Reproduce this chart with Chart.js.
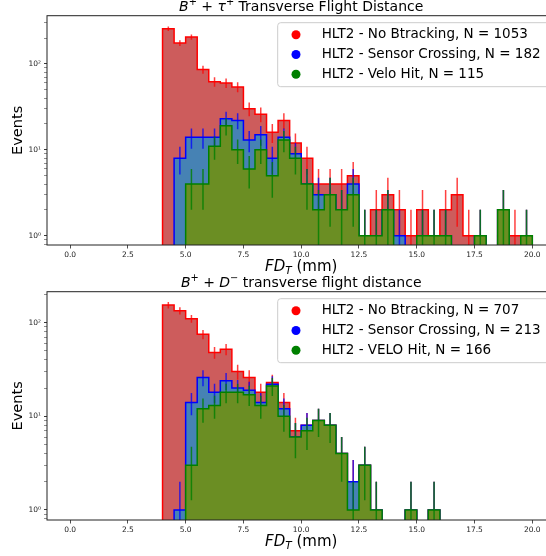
<!DOCTYPE html>
<html>
<head>
<meta charset="utf-8">
<script src="https://cdn.jsdelivr.net/npm/chart.js@4.4.0/dist/chart.umd.min.js"></script>
<style>
  html, body { margin: 0; padding: 0; background: #fff; overflow: hidden; }
  #wrap { position: relative; width: 546px; height: 556px; overflow: hidden; }
  canvas { position: absolute; left: 0; }
</style>
</head>
<body>
<div id="wrap">
  <canvas id="chartTau" width="560" height="278" style="top:0"></canvas>
  <canvas id="chartD" width="560" height="294" style="top:262px"></canvas>
</div>
<script>
// bin edges (mm), 0.5 mm bins
const binEdges = [4.0, 4.5, 5.0, 5.5, 6.0, 6.5, 7.0, 7.5, 8.0, 8.5, 9.0, 9.5, 10.0, 10.5, 11.0, 11.5,
                  12.0, 12.5, 13.0, 13.5, 14.0, 14.5, 15.0, 15.5, 16.0, 16.5, 17.0, 17.5, 18.0, 18.5, 19.0, 19.5, 20.0];
const xTicks = [0, 2.5, 5, 7.5, 10, 12.5, 15, 17.5, 20];

// B+ + tau+ counts per bin
const tauNoBtrack = [257, 175, 206, 86, 62, 60, 54, 30, 26, 16, 22, 12, 8, 4, 4, 4, 5, 1, 2, 3, 2, 1, 2, 1, 2, 3, 1, 1, 0, 2, 1, 1];
const tauSensor   = [0, 8, 14, 14, 14, 23, 22, 13, 15, 8, 14, 9, 4, 3, 3, 2, 4, 1, 1, 2, 1, 0, 1, 1, 1, 0, 0, 1, 0, 2, 0, 1];
const tauVelo     = [0, 0, 4, 4, 11, 19, 10, 6, 10, 5, 13, 8, 4, 2, 3, 2, 3, 1, 1, 2, 0, 0, 1, 1, 1, 0, 0, 1, 0, 2, 0, 1];
const tauLabels = ['HLT2 - No Btracking, N = 1053', 'HLT2 - Sensor Crossing, N = 182', 'HLT2 - Velo Hit, N = 115'];

// B+ + D- counts per bin
const dNoBtrack = [154, 134, 110, 75, 48, 52, 30, 26, 18, 23, 14, 7, 8, 9, 8, 4, 2, 3, 1, 0, 0, 1, 0, 1, 0, 0, 0, 0, 0, 0, 0, 0];
const dSensor   = [0, 1, 14, 26, 18, 24, 20, 19, 14, 22, 12, 6, 8, 9, 8, 4, 2, 3, 1, 0, 0, 1, 0, 1, 0, 0, 0, 0, 0, 0, 0, 0];
const dVelo     = [0, 0, 3, 12, 13, 18, 18, 17, 13, 21, 10, 6, 7, 9, 8, 4, 1, 3, 1, 0, 0, 1, 0, 1, 0, 0, 0, 0, 0, 0, 0, 0];
const dLabels = ['HLT2 - No Btracking, N = 707', 'HLT2 - Sensor Crossing, N = 213', 'HLT2 - VELO Hit, N = 166'];

const FLOOR = 0.01; // empty bins drop below the log axis
const FONT = '"DejaVu Sans", sans-serif';
const edgeColors = ['#ff0000', '#0000ff', '#008000'];
const fillColors = ['#cd5c5c', '#4682b4', '#6b8e23'];
const errColors = ['rgba(255,0,0,0.75)', 'rgba(0,0,255,0.75)', 'rgba(0,128,0,0.8)'];

function stepPoints(counts) {
    const pts = [{x: binEdges[0], y: FLOOR}];
    counts.forEach((c, i) => pts.push({x: binEdges[i], y: c > 0 ? c : FLOOR}));
    const last = counts[counts.length - 1];
    pts.push({x: binEdges[binEdges.length - 1], y: last > 0 ? last : FLOOR});
    pts.push({x: binEdges[binEdges.length - 1], y: FLOOR});
    return pts;
}

function errPoints(counts) {
    const pts = [];
    counts.forEach((c, i) => {
        if (c <= 0) return;
        const xc = (binEdges[i] + binEdges[i + 1]) / 2;
        const s = Math.sqrt(c);
        pts.push({x: xc, y: Math.max(c - s, FLOOR)}, {x: xc, y: c + s}, {x: xc, y: NaN});
    });
    return pts;
}

function drawRich(ctx, segs, cx, cy, size) {
    const parts = segs.map(s => {
        const fs = (s.sup || s.sub) ? size * 0.7 : size;
        const font = (s.it ? 'italic ' : '') + fs + 'px ' + FONT;
        ctx.font = font;
        return {t: s.t, font: font, w: ctx.measureText(s.t).width,
                dy: s.sup ? -size * 0.35 : (s.sub ? size * 0.28 : 0)};
    });
    let x = cx - parts.reduce((a, p) => a + p.w, 0) / 2;
    ctx.textAlign = 'left';
    ctx.textBaseline = 'middle';
    parts.forEach(p => { ctx.font = p.font; ctx.fillText(p.t, x, cy + p.dy); x += p.w; });
}

function makeChart(id, series, labels, title, yMin, yMax, top, bottom) {
    const datasets = [];
    series.forEach((counts, k) => {
        datasets.push({
            data: stepPoints(counts), stepped: 'before', fill: 'start',
            backgroundColor: fillColors[k], borderColor: edgeColors[k], borderWidth: 1.5,
            order: 10 - 2 * k, clip: 0
        });
        datasets.push({
            data: errPoints(counts), spanGaps: false, fill: false,
            borderColor: errColors[k], borderWidth: 1.5, order: 9 - 2 * k, clip: 0
        });
    });

    const canvas = document.getElementById(id);
    const H = canvas.height;

    const textPlugin = {
        id: 'texts',
        afterDatasetsDraw(chart) {
            const ctx = chart.ctx;
            const a = chart.chartArea;
            ctx.save();
            // frame
            ctx.strokeStyle = '#222';
            ctx.lineWidth = 1;
            ctx.strokeRect(a.left, a.top, a.right - a.left, a.bottom - a.top);

            // legend
            const bx = 277.7, by = a.top + 7, bh = 64, bw = 272;
            ctx.beginPath();
            ctx.roundRect(bx, by, bw, bh, 3);
            ctx.fillStyle = 'rgba(255,255,255,0.8)';
            ctx.fill();
            ctx.strokeStyle = '#cccccc';
            ctx.lineWidth = 1;
            ctx.stroke();
            labels.forEach((lab, k) => {
                const yy = by + 12 + k * 19.8;
                ctx.beginPath();
                ctx.arc(296, yy, 4.5, 0, Math.PI * 2);
                ctx.fillStyle = edgeColors[k];
                ctx.fill();
                ctx.fillStyle = '#000';
                ctx.font = '13.5px ' + FONT;
                ctx.textAlign = 'left';
                ctx.textBaseline = 'middle';
                ctx.fillText(lab, 321.7, yy);
            });

            // titles and axis labels
            ctx.fillStyle = '#000';
            const cx = (a.left + a.right) / 2;
            drawRich(ctx, title, cx, a.top - 8.7, 14);
            drawRich(ctx, [{t: 'FD', it: 1}, {t: 'T', it: 1, sub: 1}, {t: ' (mm)'}], cx, a.bottom + 22, 15);
            ctx.translate(18, (a.top + a.bottom) / 2);
            ctx.rotate(-Math.PI / 2);
            ctx.font = '14.5px ' + FONT;
            ctx.textAlign = 'center';
            ctx.textBaseline = 'middle';
            ctx.fillText('Events', 0, 0);
            ctx.restore();
        }
    };

    const isMajor = v => Math.abs(Math.log10(v) - Math.round(Math.log10(v))) < 1e-9;
    const sup = {'-1': '⁻¹', '0': '⁰', '1': '¹', '2': '²', '3': '³'};

    return new Chart(canvas, {
        type: 'line',
        data: {datasets: datasets},
        options: {
            responsive: false,
            animation: false,
            events: [],
            layout: {padding: {top: top, left: 0, right: canvas.width - 555.4, bottom: 0}},
            elements: {point: {radius: 0}, line: {tension: 0}},
            plugins: {legend: {display: false}, tooltip: {enabled: false}},
            scales: {
                x: {
                    type: 'linear', min: -1, max: 21,
                    afterFit(s) { s.height = H - bottom; },
                    afterBuildTicks(s) { s.ticks = xTicks.map(v => ({value: v})); },
                    ticks: {callback: v => v.toFixed(1), font: {family: FONT, size: 7.5}, color: '#222',
                            padding: 2, maxRotation: 0, autoSkip: false},
                    grid: {drawOnChartArea: false, tickLength: 3.5, tickColor: '#222', tickWidth: 0.8},
                    border: {display: false}
                },
                y: {
                    type: 'logarithmic', min: yMin, max: yMax,
                    afterFit(s) { s.width = 47; },
                    afterBuildTicks(s) {
                        const t = [];
                        [-1, 0, 1, 2].forEach(e => {
                            for (let m = 1; m <= 9; m++) {
                                const v = m * Math.pow(10, e);
                                if (v >= yMin && v <= yMax) t.push({value: v});
                            }
                        });
                        s.ticks = t;
                    },
                    ticks: {
                        callback: v => isMajor(v) ? '10' + sup[String(Math.round(Math.log10(v)))] : '',
                        font: {family: FONT, size: 7.5}, color: '#222', padding: 3, autoSkip: false
                    },
                    grid: {drawOnChartArea: false, tickLength: 3, tickColor: '#222',
                           tickWidth: c => (c.tick && isMajor(c.tick.value)) ? 0.9 : 0.5},
                    border: {display: false}
                }
            }
        },
        plugins: [textPlugin]
    });
}

makeChart('chartTau', [tauNoBtrack, tauSensor, tauVelo], tauLabels,
    [{t: 'B', it: 1}, {t: '+', sup: 1}, {t: ' + '}, {t: 'τ', it: 1}, {t: '+', sup: 1}, {t: ' Transverse Flight Distance'}],
    0.78, 364, 15.7, 245);
makeChart('chartD', [dNoBtrack, dSensor, dVelo], dLabels,
    [{t: 'B', it: 1}, {t: '+', sup: 1}, {t: ' + '}, {t: 'D', it: 1}, {t: '−', sup: 1}, {t: ' transverse flight distance'}],
    0.78, 214, 29.7, 258);
</script>
</body>
</html>
